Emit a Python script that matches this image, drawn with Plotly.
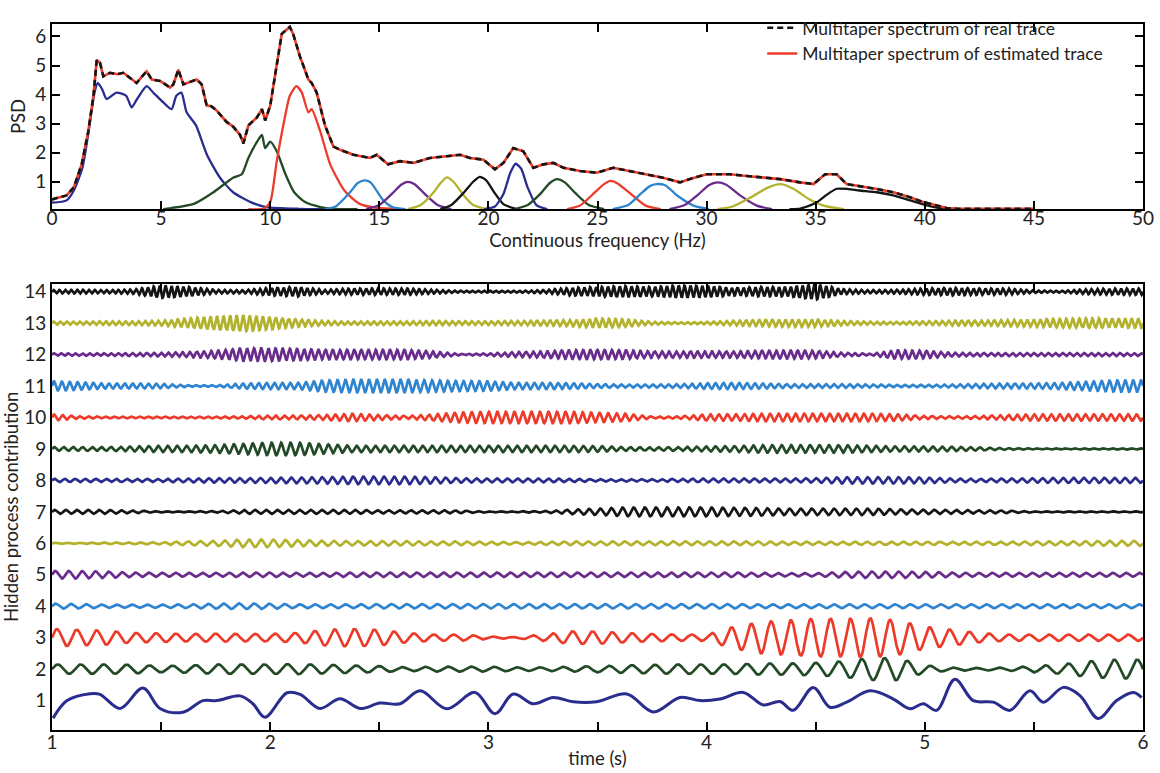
import numpy as np
import plotly.graph_objects as go

FONT = "Lato"
NAVY, GREEN, RED, LBLUE, PURPLE, OLIVE, BLACK = "#2b2d8e", "#234a26", "#ec3b2a", "#2e84cf", "#6a2c8c", "#b3b22c", "#151515"
COMP_COLORS = [NAVY, GREEN, RED, LBLUE, PURPLE, OLIVE, BLACK, NAVY, GREEN, RED, LBLUE, PURPLE, OLIVE, BLACK]

# ---------------- top panel: spectra ----------------
F_TOT = [0.0, 0.07, 0.67, 1.0, 1.36, 1.66, 1.9, 2.05, 2.2, 2.35, 2.65, 3.0, 3.27, 3.57, 3.88, 4.1, 4.34, 4.57, 4.95, 5.2,
         5.41, 5.56, 5.79, 6.02, 6.4, 6.63, 6.86, 7.09, 7.3, 7.55, 8.0, 8.3, 8.62, 8.77, 9.0, 9.4, 9.62, 9.77, 10.0, 10.3,
         10.53, 10.9, 11.05, 11.37, 11.75, 11.9, 12.13, 12.51, 12.9, 13.2, 13.81, 14.57, 14.88, 15.4, 15.95, 16.56, 17.32,
         18.09, 18.7, 19.16, 19.77, 20.3, 20.69, 21.14, 21.6, 22.06, 22.52, 22.98, 23.44, 24.2, 24.96, 25.72, 26.5, 27.25,
         28.0, 28.78, 29.2, 30.0, 31.07, 31.84, 32.6, 33.37, 34.28, 34.9, 35.43, 35.96, 36.42, 36.88, 37.8, 38.56, 39.32,
         39.93, 40.54, 41.0, 41.5, 43.0, 45.0]
V_TOT = [0.38, 0.41, 0.53, 0.81, 1.6, 2.72, 3.96, 5.19, 5.1, 4.63, 4.75, 4.7, 4.75, 4.57, 4.4, 4.6, 4.8, 4.52, 4.47, 4.35,
         4.24, 4.35, 4.86, 4.35, 4.47, 4.52, 4.35, 3.62, 3.6, 3.45, 3.06, 2.9, 2.61, 2.32, 2.94, 3.22, 3.5, 3.11, 3.62, 5.08,
         6.09, 6.33, 6.09, 5.3, 4.52, 4.4, 4.07, 2.94, 2.21, 2.1, 1.93, 1.82, 1.93, 1.6, 1.71, 1.65, 1.82, 1.88, 1.93, 1.82,
         1.76, 1.43, 1.65, 2.16, 2.05, 1.48, 1.6, 1.65, 1.48, 1.37, 1.31, 1.48, 1.37, 1.26, 1.14, 0.98, 1.09, 1.26, 1.26,
         1.2, 1.14, 1.09, 0.98, 0.92, 1.26, 1.26, 0.92, 0.87, 0.75, 0.64, 0.47, 0.3, 0.19, 0.1, 0.07, 0.07, 0.07]

COMP_F = [
    [0, 0.67, 1.0, 1.4, 1.7, 1.95, 2.1, 2.3, 2.5, 2.96, 3.4, 3.65, 3.9, 4.34, 4.64, 5.1, 5.48, 5.7, 5.93, 6.17, 6.6, 7.1, 7.7, 8.3, 9.1, 9.8, 11.3, 13],
    [5.1, 6.5, 7.4, 8.3, 8.7, 9.0, 9.4, 9.62, 9.77, 10.0, 10.3, 10.7, 11.1, 11.6, 12.3, 12.9, 14],
    [9.0, 9.7, 10.0, 10.3, 10.6, 10.9, 11.2, 11.45, 11.75, 11.9, 12.3, 12.75, 13.4, 14.1, 14.9, 16],
    [12.5, 13.0, 13.66, 14.0, 14.3, 14.6, 15.18, 15.6, 16.2],
    [14.4, 15.0, 15.6, 16.0, 16.3, 16.6, 17.2, 17.7, 18.3],
    [16.3, 16.9, 17.5, 17.8, 18.1, 18.4, 18.9, 19.3, 19.9],
    [17.8, 18.3, 18.9, 19.3, 19.6, 19.9, 20.3, 20.7, 21.3],
    [19.8, 20.3, 20.7, 21.0, 21.25, 21.5, 21.8, 22.2, 22.7],
    [21.2, 21.8, 22.4, 22.8, 23.15, 23.5, 24.0, 24.6, 25.3],
    [23.6, 24.2, 24.9, 25.3, 25.6, 25.9, 26.5, 27.2, 27.9],
    [25.7, 26.4, 27.0, 27.4, 27.7, 28.1, 28.7, 29.4, 30.1],
    [28.3, 29.0, 29.6, 30.1, 30.5, 30.9, 31.5, 32.3, 33.0],
    [30.5, 31.2, 32.0, 32.8, 33.4, 34.0, 34.7, 35.4, 36.3],
    [33.8, 34.3, 35.0, 35.5, 35.96, 36.5, 37.0, 37.8, 38.56, 39.32, 40.1, 40.8, 41.5],
]
COMP_V = [
    [0.28, 0.36, 0.7, 1.5, 2.84, 4.07, 4.4, 4.18, 3.85, 4.07, 3.96, 3.56, 3.85, 4.29, 4.07, 3.73, 3.5, 3.96, 4.07, 3.39, 2.94, 1.93, 1.14, 0.64, 0.3, 0.13, 0.07, 0.06],
    [0.06, 0.24, 0.64, 1.14, 1.26, 1.82, 2.38, 2.61, 2.16, 2.38, 2.05, 1.26, 0.64, 0.3, 0.13, 0.07, 0.06],
    [0.06, 0.07, 0.3, 1.71, 2.94, 3.96, 4.29, 4.07, 3.39, 3.5, 2.72, 1.6, 0.7, 0.24, 0.1, 0.06],
    [0.06, 0.15, 0.64, 0.95, 1.05, 0.98, 0.36, 0.13, 0.06],
    [0.06, 0.2, 0.6, 0.9, 1.0, 0.92, 0.5, 0.19, 0.06],
    [0.06, 0.2, 0.65, 0.95, 1.15, 1.0, 0.5, 0.2, 0.06],
    [0.06, 0.2, 0.65, 1.0, 1.17, 1.05, 0.6, 0.22, 0.06],
    [0.06, 0.15, 0.6, 1.3, 1.62, 1.45, 0.8, 0.2, 0.06],
    [0.06, 0.2, 0.6, 0.95, 1.09, 0.98, 0.6, 0.2, 0.06],
    [0.06, 0.18, 0.65, 0.92, 1.03, 0.95, 0.6, 0.18, 0.06],
    [0.06, 0.2, 0.6, 0.85, 0.92, 0.88, 0.5, 0.18, 0.06],
    [0.06, 0.2, 0.55, 0.88, 0.98, 0.9, 0.55, 0.18, 0.06],
    [0.06, 0.15, 0.45, 0.8, 0.92, 0.75, 0.4, 0.17, 0.06],
    [0.06, 0.08, 0.27, 0.55, 0.76, 0.75, 0.7, 0.64, 0.53, 0.36, 0.19, 0.08, 0.06],
]

# ---------------- bottom panel: hidden processes ----------------
T1_T = [1.005, 1.069, 1.174, 1.22, 1.312, 1.417, 1.495, 1.6, 1.692, 1.756, 1.862, 1.921, 1.976, 2.077, 2.137, 2.228, 2.32,
        2.412, 2.503, 2.595, 2.687, 2.809, 2.939, 3.03, 3.114, 3.206, 3.297, 3.389, 3.496, 3.634, 3.756, 3.878, 3.97,
        4.061, 4.168, 4.26, 4.336, 4.397, 4.489, 4.565, 4.642, 4.749, 4.856, 4.932, 4.993, 5.054, 5.138, 5.222, 5.314,
        5.39, 5.482, 5.543, 5.635, 5.711, 5.795, 5.879, 5.956, 5.994]
T1_V = [0.44, 1.0, 1.22, 1.2, 0.75, 1.4, 0.75, 0.63, 1.0, 1.0, 1.15, 0.9, 0.47, 1.25, 1.2, 0.75, 1.06,
        0.75, 0.92, 0.9, 1.31, 0.74, 1.26, 0.58, 1.21, 0.9, 1.1, 0.96, 0.96, 1.21, 0.64, 1.1, 1.0,
        1.05, 1.26, 0.86, 0.97, 0.69, 1.42, 0.79, 0.95, 1.31, 1.05, 0.74, 0.9, 0.69, 1.68, 1.0, 0.95,
        0.69, 1.31, 0.95, 1.42, 1.16, 0.43, 1.0, 1.26, 1.1]

FREQS = [9.5, 11.0, 14.3, 16.3, 18.0, 19.6, 21.2, 23.1, 25.6, 27.7, 30.5, 33.4, 37.0]  # traces 2..14
ENV_T = [1.0 + 0.125 * i for i in range(41)]
ENV = [
    # 2 green
    [.15, .15, .15, .14, .10, .12, .15, .15, .15, .16, .14, .12, .10, .06, .08, .08, .08, .06, .06, .08, .10, .12, .14, .15, .15, .15, .18, .18, .20, .25, .35, .35, .12, .05, .04, .05, .10, .15, .25, .30, .30],
    # 3 red
    [.28, .25, .22, .15, .14, .12, .13, .12, .12, .15, .25, .28, .25, .15, .10, .10, .04, .02, .10, .20, .20, .15, .12, .10, .10, .35, .50, .55, .60, .60, .62, .55, .35, .25, .15, .10, .10, .10, .10, .10, .10],
    # 4 light blue
    [.08, .07, .05, .05, .05, .06, .08, .09, .08, .06, .06, .06, .07, .07, .07, .07, .07, .07, .07, .07, .07, .07, .07, .07, .07, .07, .06, .06, .06, .06, .06, .06, .06, .06, .06, .06, .06, .06, .06, .06, .06],
    # 5 purple
    [.12, .12, .10, .07, .06, .06, .06, .07, .07, .06, .06, .07, .07, .07, .07, .07, .07, .07, .07, .07, .07, .07, .07, .07, .07, .07, .06, .05, .05, .09, .10, .10, .09, .07, .06, .06, .06, .06, .06, .06, .06],
    # 6 olive
    [.02, .02, .03, .03, .04, .06, .08, .12, .12, .10, .08, .07, .07, .07, .06, .06, .05, .04, .05, .06, .06, .06, .06, .06, .06, .06, .06, .05, .05, .05, .05, .05, .05, .05, .05, .05, .06, .06, .07, .08, .08],
    # 7 black
    [.06, .06, .06, .04, .02, .02, .03, .06, .06, .06, .06, .06, .05, .05, .05, .04, .02, .02, .03, .07, .10, .14, .14, .14, .14, .13, .12, .10, .10, .10, .10, .08, .07, .06, .05, .04, .02, .02, .02, .02, .02],
    # 8 navy
    [.05, .05, .05, .05, .05, .06, .07, .07, .08, .09, .10, .12, .12, .12, .10, .07, .06, .06, .06, .05, .04, .04, .04, .05, .06, .06, .06, .06, .07, .10, .10, .10, .09, .06, .05, .06, .07, .08, .08, .08, .08],
    # 9 green
    [.06, .06, .06, .08, .10, .10, .12, .16, .20, .20, .15, .10, .10, .10, .10, .10, .10, .10, .10, .10, .09, .06, .05, .06, .08, .09, .12, .12, .12, .12, .10, .08, .08, .07, .05, .03, .02, .02, .02, .02, .02],
    # 10 red
    [.10, .04, .03, .03, .03, .03, .03, .04, .06, .06, .08, .12, .08, .05, .10, .16, .18, .18, .18, .18, .15, .12, .03, .04, .10, .10, .12, .12, .12, .12, .12, .10, .05, .04, .05, .08, .10, .10, .10, .10, .10],
    # 11 light blue
    [.15, .12, .08, .08, .07, .03, .03, .08, .10, .10, .18, .20, .20, .20, .18, .16, .15, .10, .10, .09, .06, .05, .05, .06, .09, .10, .08, .06, .06, .06, .05, .04, .04, .05, .07, .08, .08, .10, .14, .18, .18],
    # 12 purple
    [.04, .04, .04, .05, .06, .08, .12, .20, .20, .18, .15, .15, .15, .15, .10, .02, .04, .08, .10, .14, .15, .14, .10, .10, .10, .10, .12, .13, .12, .06, .03, .14, .12, .06, .05, .05, .05, .05, .05, .05, .04],
    # 13 olive
    [.05, .05, .06, .06, .08, .15, .22, .26, .20, .12, .07, .05, .06, .06, .07, .06, .06, .07, .08, .10, .15, .12, .05, .03, .04, .08, .10, .12, .12, .07, .05, .04, .06, .08, .08, .10, .12, .14, .15, .15, .15],
    # 14 black
    [.05, .06, .05, .07, .20, .15, .06, .05, .12, .15, .06, .10, .10, .10, .06, .03, .03, .03, .05, .12, .15, .18, .15, .20, .18, .12, .15, .15, .25, .08, .05, .06, .10, .12, .10, .10, .04, .03, .08, .10, .10],
]

YTICKS_BOTTOM = list(range(1, 15))
XTICKS_BOTTOM = [1, 1.5, 2, 2.5, 3, 3.5, 4, 4.5, 5, 5.5, 6]
XTICKS_TOP = [0, 5, 10, 15, 20, 25, 30, 35, 40, 45, 50]
YTICKS_TOP = [1, 2, 3, 4, 5, 6]

fig = go.Figure()

for i, (fx, fv) in enumerate(zip(COMP_F, COMP_V)):
    fig.add_trace(go.Scatter(x=fx, y=fv, mode="lines", line=dict(color=COMP_COLORS[i], width=2.3, shape="spline", smoothing=0.6),
                             showlegend=False, xaxis="x", yaxis="y", hoverinfo="skip"))

fig.add_trace(go.Scatter(x=F_TOT, y=V_TOT, mode="lines", name="Multitaper spectrum of estimated trace",
                         line=dict(color=RED, width=2.6), legendrank=2, xaxis="x", yaxis="y"))
fig.add_trace(go.Scatter(x=F_TOT, y=V_TOT, mode="lines", name="Multitaper spectrum of real trace",
                         line=dict(color=BLACK, width=2.6, dash="6px,4px"), legendrank=1, xaxis="x", yaxis="y"))

t = np.linspace(1.0, 6.0, 2501)
fig.add_trace(go.Scatter(x=T1_T, y=T1_V, mode="lines", line=dict(color=NAVY, width=3.0, shape="spline", smoothing=1.0),
                         showlegend=False, xaxis="x2", yaxis="y2"))
for k in range(2, 15):
    env = np.interp(t, ENV_T, ENV[k - 2])
    y = k + env * np.sin(2 * np.pi * FREQS[k - 2] * (t - 1.0))
    fig.add_trace(go.Scatter(x=t, y=y, mode="lines", line=dict(color=COMP_COLORS[k - 1], width=2.7),
                             showlegend=False, xaxis="x2", yaxis="y2", hoverinfo="skip"))

TITLE_SIZE = 18.5
axis_common = dict(showline=True, linecolor="black", linewidth=2, showgrid=False, zeroline=False, automargin=False,
                   tickfont=dict(family=FONT, size=19, color="#222"), tickcolor="black", tickwidth=2)

fig.update_layout(
    width=1160, height=773,
    margin=dict(l=52, r=17, t=10, b=43),
    paper_bgcolor="white", plot_bgcolor="white",
    font=dict(family=FONT, size=TITLE_SIZE, color="#222"),
    xaxis=dict(domain=[0, 1], anchor="y", range=[0, 50], tickvals=XTICKS_TOP, ticks="inside", ticklen=8, mirror="ticks",
               ticklabelstandoff=-9,
               title=dict(text="Continuous frequency (Hz)", font=dict(family=FONT, size=TITLE_SIZE), standoff=0), **axis_common),
    yaxis=dict(domain=[0.738, 1.0], anchor="x", range=[0.064, 6.43], tickvals=YTICKS_TOP, ticks="inside", ticklen=8,
               mirror="ticks", title=dict(text="PSD", font=dict(family=FONT, size=TITLE_SIZE), standoff=5), **axis_common),
    xaxis2=dict(domain=[0, 1], anchor="y2", range=[1, 6], tickvals=XTICKS_BOTTOM,
                ticktext=[str(v) if float(v).is_integer() else "" for v in XTICKS_BOTTOM],
                ticks="inside", ticklen=8, mirror="ticks", ticklabelstandoff=-6,
                title=dict(text="time (s)", font=dict(family=FONT, size=TITLE_SIZE), standoff=0), **axis_common),
    yaxis2=dict(domain=[0, 0.632], anchor="x2", range=[0.065, 14.25], tickvals=YTICKS_BOTTOM, ticks="", mirror=True,
                title=dict(text="Hidden process contribution", font=dict(family=FONT, size=TITLE_SIZE), standoff=5), **axis_common),
    legend=dict(x=0.651, y=1.02, xanchor="left", yanchor="top", bgcolor="rgba(0,0,0,0)",
                font=dict(family=FONT, size=17.5), tracegroupgap=0),
)

fig.write_html("out.html", config={"displayModeBar": False},
               post_script="document.body.style.margin='0px';document.body.style.overflow='hidden';")
